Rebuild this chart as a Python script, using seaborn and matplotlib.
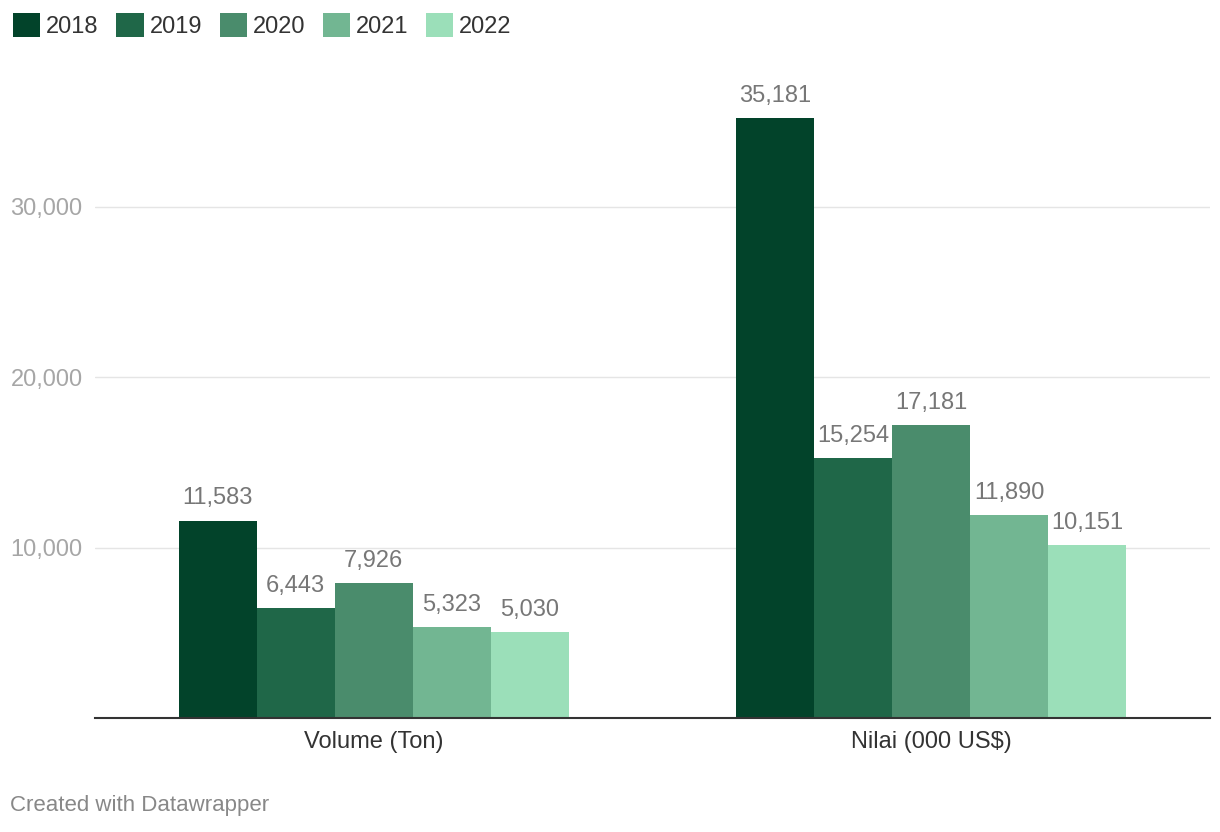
import pandas as pd
import matplotlib
matplotlib.use('Agg')
import matplotlib.pyplot as plt
from matplotlib.patches import Patch
import seaborn as sns

# data
categories = ['Volume (Ton)', 'Nilai (000 US$)']
years = ['2018', '2019', '2020', '2021', '2022']
volume = [11583, 6443, 7926, 5323, 5030]
nilai = [35181, 15254, 17181, 11890, 10151]
y_ticks = [10000, 20000, 30000]
colors = ['#02432a', '#1f6748', '#4a8c6c', '#72b692', '#9bdfb9']

rows = []
for yr, v, n in zip(years, volume, nilai):
    rows.append({'category': categories[0], 'year': yr, 'value': v})
    rows.append({'category': categories[1], 'year': yr, 'value': n})
df = pd.DataFrame(rows)

sns.set_style('white')
plt.rcParams['font.family'] = ['Liberation Sans', 'DejaVu Sans']

fig = plt.figure(figsize=(12.2, 8.32), dpi=100)
ax = fig.add_axes([0.0779, 0.137, 0.9139, 0.7356])

sns.barplot(data=df, x='category', y='value', hue='year', order=categories,
            hue_order=years, palette=colors, width=0.7, saturation=1,
            linewidth=0, edgecolor='none', legend=False, ax=ax)

for cont, yr in zip(ax.containers, years):
    labels = [f'{b.get_height():,.0f}' for b in cont]
    ax.bar_label(cont, labels=labels, padding=8, color='#777777', fontsize=17)

ax.set_xlim(-0.5, 1.5)
ax.set_ylim(0, 35900)
ax.set_yticks(y_ticks)
ax.set_yticklabels([f'{t:,}' for t in y_ticks])
ax.tick_params(axis='y', length=0, pad=9, labelsize=17, labelcolor='#a6a6a6')
ax.tick_params(axis='x', length=0, pad=9, labelsize=17, labelcolor='#333333')
ax.set_xlabel('')
ax.set_ylabel('')
ax.grid(axis='y', color='#e5e5e5', linewidth=1.0)
ax.set_axisbelow(True)
for s in ['top', 'right', 'left']:
    ax.spines[s].set_visible(False)
ax.spines['bottom'].set_color('#333333')
ax.spines['bottom'].set_linewidth(1.5)

handles = [Patch(facecolor=c, edgecolor='none') for c in colors]
fig.legend(handles, years, loc='center left', bbox_to_anchor=(0.005, 0.969),
           ncol=5, frameon=False, fontsize=17, handlelength=1.15,
           handleheight=1.15, handletextpad=0.25, columnspacing=0.75,
           borderaxespad=0, borderpad=0.3, labelcolor='#333333')

fig.text(0.008, 0.032, 'Created with Datawrapper', color='#888888',
         fontsize=16, ha='left', va='center')

fig.savefig('out.png', dpi=100)
